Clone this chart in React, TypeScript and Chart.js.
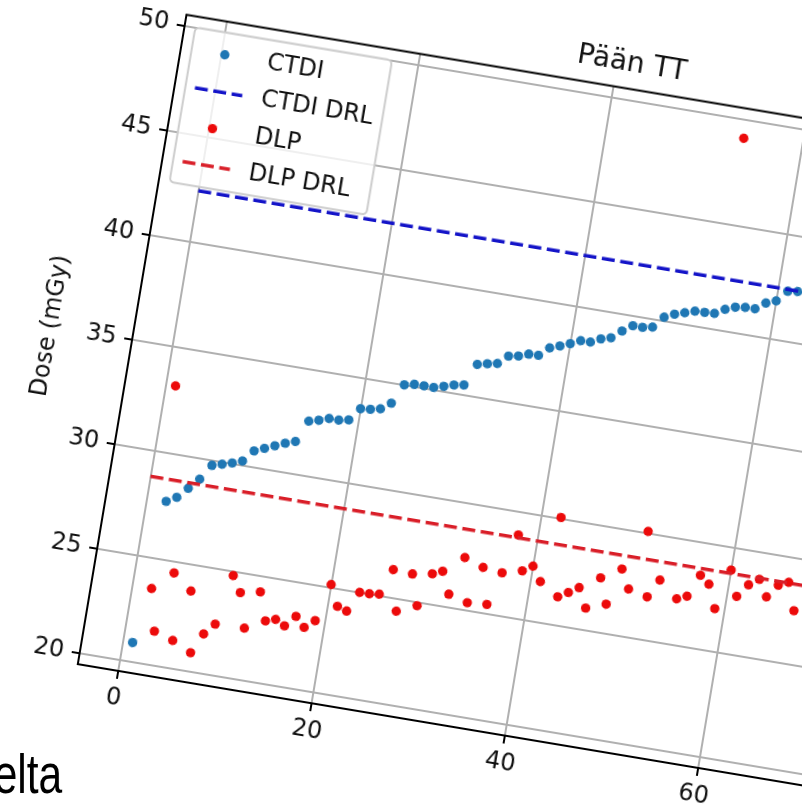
import React, { useEffect, useRef } from "react";
import { Chart, registerables } from "chart.js";

Chart.register(...registerables);

// ---- data ----
const ctdiValues = [
  20.93, 27.76, 28.03, 28.54, 29.05, 29.79, 29.92, 30.06, 30.23, 30.79,
  30.99, 31.19, 31.39, 31.55, 32.6, 32.72, 32.88, 32.88, 32.97, 33.58,
  33.63, 33.73, 34.08, 35.03, 35.13, 35.14, 35.14, 35.27, 35.41, 35.49,
  36.55, 36.66, 36.75, 37.18, 37.26, 37.43, 37.45, 37.88, 38.05, 38.24,
  38.46, 38.47, 38.7, 38.83, 39.23, 39.56, 39.56, 39.65, 40.2, 40.42,
  40.57, 40.72, 40.74, 40.77, 41.04, 41.22, 41.29, 41.3, 41.65, 41.83,
  42.37, 42.43,
];
const dlpValues = [
  33.2, 23.59, 21.63, 24.49, 21.34, 23.78, 20.91, 21.88, 22.43, 24.83,
  24.09, 22.47, 24.28, 22.97, 23.12, 22.89, 23.42, 22.97, 23.37, 25.17,
  24.21, 24.06, 25.03, 25.04, 25.1, 26.35, 24.44, 26.3, 24.86, 26.46,
  26.66, 25.64, 27.47, 25.39, 27.15, 25.46, 27.05, 28.94, 27.3, 27.6,
  26.94, 30.08, 26.37, 26.65, 26.96, 26.06, 27.58, 26.4, 28.16, 27.28,
  30.11, 27.06, 27.94, 49.14, 27.2, 27.4, 28.48, 28.13, 27.04, 28.96,
  27.78, 28.41, 28.75, 27.99, 28.62, 28.84, 27.56, 28.9,
];
const ctdiDrl = 42.45;
const dlpDrl = 28.8;
const drlSpan = [0, 83];
const xTicks = [0, 20, 40, 60, 80];
const yTicks = [20, 25, 30, 35, 40, 45, 50];
const titleText = "Pään TT";
const yAxisLabel = "Dose (mGy)";
const seriesLabels = ["CTDI", "CTDI DRL", "DLP", "DLP DRL"];
const captionText = "elta";

// ---- layout / style ----
const X_MIN = -4.15, X_MAX = 87.15, Y_MIN = 19.5, Y_MAX = 50.55;
const PX_PER_X = 9.8, PX_PER_Y = 21.2;
const ANGLE = 9.5;
const ANCHOR = { x: 119.5, y: 660 }; // where data point (0,20) sits on the page
const FONT = "'DejaVu Sans', 'Noto Sans', sans-serif";
const FS = 24;
const TITLE_FS = 28;
const TITLE_PAD = { top: 12, bottom: 8 };
const Y_AXIS_W = 120, X_AXIS_H = 60, PAD_RIGHT = 20;
const TITLE_H = TITLE_FS * 1.2 + TITLE_PAD.top + TITLE_PAD.bottom;
const AREA_W = (X_MAX - X_MIN) * PX_PER_X;
const AREA_H = (Y_MAX - Y_MIN) * PX_PER_Y;
const CANVAS_W = Math.round(Y_AXIS_W + AREA_W + PAD_RIGHT);
const CANVAS_H = Math.round(TITLE_H + AREA_H + X_AXIS_H);

const TEXT_COLOR = "#111";
const C_CTDI = "#1f77b4";
const C_CTDI_DRL = "#1414c8";
const C_DLP = "#ec0a0a";
const C_DLP_DRL = "#d91e28";
const DASH = [13, 5.6];

const framePlugin = {
  id: "mplFrame",
  beforeDatasetsDraw(chart: any) {
    const { ctx, chartArea: a } = chart;
    ctx.save();
    ctx.strokeStyle = "#000";
    ctx.lineWidth = 2;
    ctx.strokeRect(a.left, a.top, a.right - a.left, a.bottom - a.top);
    ctx.restore();
  },
};

const legendPlugin = {
  id: "mplLegend",
  afterDraw(chart: any) {
    const { ctx, chartArea: a } = chart;
    const ds = chart.data.datasets;
    ctx.save();
    ctx.font = `${FS}px ${FONT}`;
    const pad = 0.4 * FS, spacing = 0.5 * FS, handleLen = 2 * FS, textPad = 0.8 * FS, axPad = 0.45 * FS;
    const rowH = FS * 1.06;
    const maxW = Math.max(...seriesLabels.map((l) => ctx.measureText(l).width));
    const w = pad * 2 + handleLen + textPad + maxW;
    const h = pad * 2 + rowH * seriesLabels.length + spacing * (seriesLabels.length - 1);
    const x0 = a.left + axPad, y0 = a.top + axPad;
    ctx.beginPath();
    (ctx as any).roundRect(x0, y0, w, h, 0.2 * FS);
    ctx.fillStyle = "rgba(255,255,255,0.8)";
    ctx.fill();
    ctx.lineWidth = 2;
    ctx.strokeStyle = "#cccccc";
    ctx.stroke();
    seriesLabels.forEach((label, i) => {
      const d = ds.find((s: any) => s.label === label);
      const cy = y0 + pad + i * (rowH + spacing) + rowH / 2;
      const hx = x0 + pad;
      if (d.showLine) {
        ctx.beginPath();
        ctx.setLineDash(d.borderDash);
        ctx.strokeStyle = d.borderColor;
        ctx.lineWidth = d.borderWidth;
        ctx.moveTo(hx, cy);
        ctx.lineTo(hx + handleLen, cy);
        ctx.stroke();
        ctx.setLineDash([]);
      } else {
        ctx.beginPath();
        ctx.fillStyle = d.backgroundColor;
        ctx.arc(hx + handleLen / 2, cy, d.pointRadius, 0, Math.PI * 2);
        ctx.fill();
      }
      ctx.fillStyle = TEXT_COLOR;
      ctx.textAlign = "left";
      ctx.textBaseline = "middle";
      ctx.fillText(label, hx + handleLen + textPad, cy + 1);
    });
    ctx.restore();
  },
};

export default function App() {
  const canvasRef = useRef<HTMLCanvasElement | null>(null);

  useEffect(() => {
    const canvas = canvasRef.current;
    if (!canvas) return;
    const ctdiPoints = ctdiValues.map((v, i) => ({ x: i + 1, y: v }));
    const dlpPoints = dlpValues.map((v, i) => ({ x: i + 1, y: v }));
    const fixTicks = (vals: number[]) => (scale: any) => {
      scale.ticks = vals.map((v) => ({ value: v }));
    };
    const chart = new Chart(canvas, {
      type: "scatter",
      data: {
        datasets: [
          {
            label: seriesLabels[0],
            data: ctdiPoints,
            backgroundColor: C_CTDI,
            borderColor: C_CTDI,
            pointRadius: 4.7,
            pointHoverRadius: 4.7,
            pointBorderWidth: 0,
            order: 3,
          },
          {
            label: seriesLabels[1],
            data: drlSpan.map((x) => ({ x, y: ctdiDrl })),
            showLine: true,
            borderColor: C_CTDI_DRL,
            backgroundColor: C_CTDI_DRL,
            borderWidth: 3.5,
            borderDash: DASH,
            pointRadius: 0,
            order: 2,
          },
          {
            label: seriesLabels[2],
            data: dlpPoints,
            backgroundColor: C_DLP,
            borderColor: C_DLP,
            pointRadius: 4.7,
            pointHoverRadius: 4.7,
            pointBorderWidth: 0,
            order: 1,
          },
          {
            label: seriesLabels[3],
            data: drlSpan.map((x) => ({ x, y: dlpDrl })),
            showLine: true,
            borderColor: C_DLP_DRL,
            backgroundColor: C_DLP_DRL,
            borderWidth: 3.5,
            borderDash: DASH,
            pointRadius: 0,
            order: 0,
          },
        ] as any,
      },
      options: {
        animation: false,
        responsive: false,
        devicePixelRatio: 1,
        layout: { padding: { left: 0, right: PAD_RIGHT, top: 0, bottom: 0 } },
        plugins: {
          legend: { display: false },
          tooltip: { enabled: false },
          title: {
            display: true,
            text: titleText,
            color: TEXT_COLOR,
            fullSize: false,
            font: { family: FONT, size: TITLE_FS, weight: "normal" as any },
            padding: TITLE_PAD,
          },
        },
        scales: {
          x: {
            type: "linear",
            min: X_MIN,
            max: X_MAX,
            afterBuildTicks: fixTicks(xTicks),
            afterFit: (s: any) => { s.height = X_AXIS_H; },
            ticks: { color: TEXT_COLOR, font: { family: FONT, size: FS }, padding: 5, callback: (v: any) => String(v) },
            grid: { color: "#b0b0b0", lineWidth: 2, tickColor: "#000", tickLength: 8, tickWidth: 2 },
            border: { display: true, color: "#000", width: 2 },
          },
          y: {
            type: "linear",
            min: Y_MIN,
            max: Y_MAX,
            afterBuildTicks: fixTicks(yTicks),
            afterFit: (s: any) => { s.width = Y_AXIS_W; },
            ticks: { color: TEXT_COLOR, font: { family: FONT, size: FS }, padding: 8, callback: (v: any) => String(v) },
            grid: { color: "#b0b0b0", lineWidth: 2, tickColor: "#000", tickLength: 8, tickWidth: 2 },
            border: { display: true, color: "#000", width: 2 },
            title: {
              display: true,
              text: yAxisLabel,
              color: TEXT_COLOR,
              font: { family: FONT, size: FS },
              padding: { top: 23, bottom: 0 },
            },
          },
        },
      } as any,
      plugins: [framePlugin, legendPlugin],
    });

    const px0 = chart.scales.x.getPixelForValue(0);
    const py0 = chart.scales.y.getPixelForValue(20);
    canvas.style.left = `${ANCHOR.x - px0}px`;
    canvas.style.top = `${ANCHOR.y - py0}px`;
    canvas.style.transformOrigin = `${px0}px ${py0}px`;
    canvas.style.transform = `rotate(${ANGLE}deg)`;

    return () => chart.destroy();
  }, []);

  return (
    <div
      style={{
        position: "fixed",
        left: 0,
        top: 0,
        width: 802,
        height: 810,
        overflow: "hidden",
        background: "#fff",
      }}
    >
      <canvas
        ref={canvasRef}
        width={CANVAS_W}
        height={CANVAS_H}
        style={{ position: "absolute", left: 0, top: 0 }}
      />
      <div
        style={{
          position: "absolute",
          left: -28.3,
          top: 745.6,
          fontFamily: "'Liberation Sans', Arial, sans-serif",
          fontSize: 56,
          lineHeight: "56px",
          color: "#000",
          whiteSpace: "nowrap",
          transform: "scaleX(0.76)",
          transformOrigin: "right center",
        }}
      >
        {captionText}
      </div>
    </div>
  );
}
